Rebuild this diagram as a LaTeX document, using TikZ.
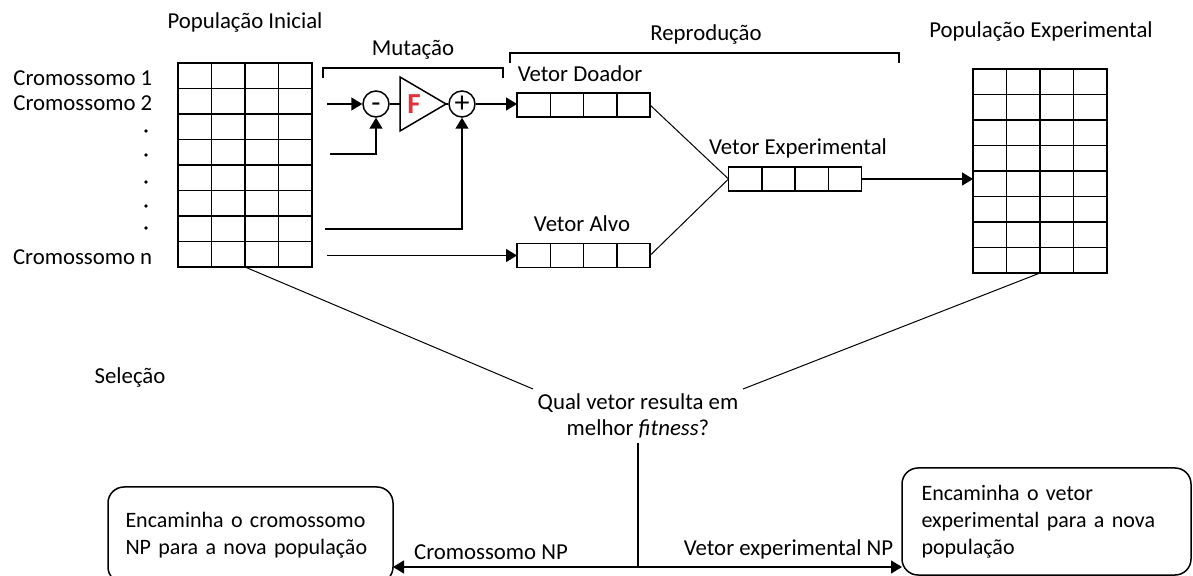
\documentclass[tikz,border=0pt]{standalone}
\usepackage{fontspec}
\setmainfont{Carlito}
\usetikzlibrary{positioning}
\usetikzlibrary{calc}
\usetikzlibrary{arrows.meta}
\definecolor{vermelho}{HTML}{E3303C}

\begin{document}
\begin{tikzpicture}[x=0.5pt, y=-0.5pt, line width=0.75pt,
		font=\fontsize{11.4}{13.5}\selectfont,
		seta/.style={-{Triangle[length=5.5pt,width=6.5pt]}},
		grade/.style={draw, anchor=north west, minimum width=67pt, minimum height=102pt, inner sep=0pt, outer sep=0pt},
		vetor/.style={draw, minimum width=66.5pt, minimum height=12pt, inner sep=0pt, outer sep=0pt},
		soma/.style={draw, circle, minimum size=13pt, inner sep=0pt, text height=9pt, text depth=0pt,
			font=\fontsize{15}{15}\selectfont},
		caixa/.style={draw, rounded corners=8pt, anchor=north west, align=left, text width=125pt, outer sep=0pt,
			font=\fontsize{11}{13.5}\selectfont}]
			\useasboundingbox (0,0) rectangle (1193,576);
			\clip (0,0) rectangle (1193,576);
			% populacoes
			\node[grade] (popini) at (178,63) {};
			\node[grade] (popexp) at (973,69) {};
			\foreach \g in {popini,popexp} {
				\foreach \c in {1,2,3}
					\draw ($(\g.north west)!\c/4!(\g.north east)$) -- ($(\g.south west)!\c/4!(\g.south east)$);
				\foreach \r in {1,...,7}
					\draw ($(\g.north west)!\r/8!(\g.south west)$) -- ($(\g.north east)!\r/8!(\g.south east)$);
			}
			\node (tpopini) at (245,23) {População Inicial};
			\node (tpopexp) at (1041,32) {População Experimental};
			\node[anchor=east, inner sep=0pt] (crom1) at (153,78) {Cromossomo 1};
			\node[anchor=east, inner sep=0pt] (crom2) at (153,103) {Cromossomo 2};
			\node[anchor=east, inner sep=0pt] (cromn) at (153,257) {Cromossomo n};
			\foreach \y in {131,155,182,206,228} \fill (146,\y) circle (0.9pt);
			% vetores
			\node[vetor] (doador) at (583.5,105) {};
			\node[vetor] (alvo) at (583.5,255.5) {};
			\node[vetor] (experim) at (795,179) {};
			\foreach \v in {doador,alvo,experim}
				\foreach \c in {1,2,3}
					\draw ($(\v.north west)!\c/4!(\v.north east)$) -- ($(\v.south west)!\c/4!(\v.south east)$);
			\node[anchor=west, inner sep=0pt] (tdoador) at (517,74) {Vetor Doador};
			\node (texp) at (798,148) {Vetor Experimental};
			\node (talvo) at (582,224) {Vetor Alvo};
			% chaves
			\draw[line width=0.6pt] (323,78) |- (503,68) -- (503,78);
			\draw[line width=0.6pt] (510,63) |- (899,53) -- (899,63);
			\node (tmut) at (413,50) {Mutação};
			\node (trep) at (706,35) {Reprodução};
			% mutacao
			\node[soma] (menos) at (376,104) {-};
			\node[soma] (mais) at (462,104) {+};
			\coordinate (base) at (400,104);
			\draw (400,77) -- (400,131) -- (446,104) coordinate (pico) -- cycle;
			\node[text=vermelho, font=\bfseries\fontsize{14.5}{16}\selectfont] (fator) at (414,104) {F};
			\coordinate (e2) at (327,104);
			\coordinate (e4) at (330,154);
			\coordinate (e7) at (325,229);
			\coordinate (e8) at (327,255.5);
			\draw[seta] (e2) -- (menos);
			\draw[seta] (e4) -| (menos.south);
			\draw[seta] (e7) -| (mais.south);
			\draw[seta] (e8) -- (alvo.west);
			\draw (menos) -- (base);
			\draw (pico) -- (mais);
			\draw[seta] (mais) -- (doador.west |- mais);
			% reproducao
			\draw[line width=0.5pt] (doador.east) -- (experim.west) -- (alvo.east);
			\draw[seta] (experim.east) -- (popexp.west |- experim.east);
			% selecao
			\node (tsel) at (130,378) {Seleção};
			\node[align=center, inner sep=2pt, font=\fontsize{11.4}{13}\selectfont] (pergunta) at (638,416) {Qual vetor resulta em\\melhor \textit{fitness}?};
			\draw[line width=0.5pt] (popini.south) -- (pergunta.north west);
			\draw[line width=0.5pt] (popexp.south) -- (pergunta.north east);
			\node[caixa, minimum height=48pt, inner xsep=8.75pt] (envcrom) at (108,487) {Encaminha o cromossomo\\NP para a nova população};
			\node[caixa, minimum height=53.5pt, inner xsep=9.75pt] (envexp) at (902,468) {Encaminha o vetor\\experimental para a nova\\população};
			\coordinate (bifurc) at (638,567);
			\draw (pergunta.south) -- (bifurc);
			\draw[seta] (bifurc) -- node[above, pos=0.6] (lcrom) {Cromossomo NP} (envcrom.east |- bifurc);
			\draw[seta] (bifurc) -- node[above, pos=0.57] (lvet) {Vetor experimental NP} (envexp.west |- bifurc);
		\end{tikzpicture}
\end{document}
